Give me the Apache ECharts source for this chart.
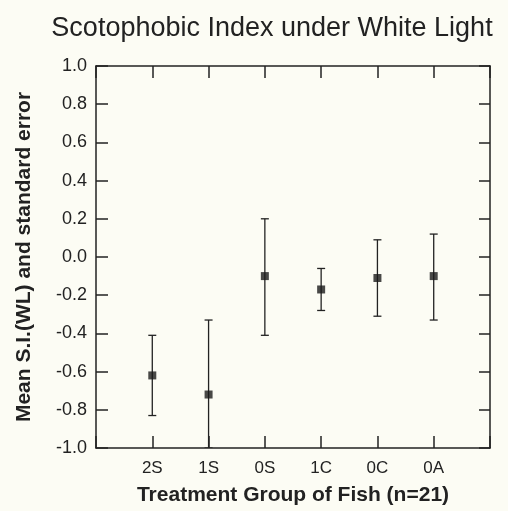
<!DOCTYPE html>
<html>
<head>
<meta charset="utf-8">
<script src="https://cdn.jsdelivr.net/npm/echarts@6/dist/echarts.min.js"></script>
<style>
html,body{margin:0;padding:0;background:#fcfcf4;}
#c{width:508px;height:511px;}
</style>
</head>
<body>
<div id="c"></div>
<script>
const categories = ['2S', '1S', '0S', '1C', '0C', '0A'];
const means = [-0.62, -0.72, -0.10, -0.17, -0.11, -0.10];
const upper = [-0.41, -0.33, 0.20, -0.06, 0.09, 0.12];
const lower = [-0.83, -1.00, -0.41, -0.28, -0.31, -0.33];

const font = 'Liberation Sans, Arial, sans-serif';
const ink = '#222';

const chart = echarts.init(document.getElementById('c'), null, {renderer: 'canvas'});

const meanData = categories.map((c, i) => [i + 1, means[i]]);
const errData = categories.map((c, i) => [i + 1, lower[i], upper[i]]);

const fmtY = v => { const r = Math.round(v * 10) / 10; return r.toFixed(1); };

const lineStyle = {color: ink, width: 1.5};

chart.setOption({
  backgroundColor: '#fcfcf4',
  animation: false,
  title: {
    text: 'Scotophobic Index under White Light',
    left: 267, top: 10, textAlign: 'center',
    textStyle: {fontFamily: font, fontSize: 27, fontWeight: 'normal', color: ink}
  },
  grid: {left: 96, right: 18, top: 66, bottom: 62, show: false},
  xAxis: [{
    type: 'value', min: 0, max: 7, interval: 1, position: 'bottom',
    axisLine: {show: true, onZero: false, lineStyle: lineStyle},
    axisTick: {show: true, inside: true, length: 12, lineStyle: lineStyle},
    splitLine: {show: false},
    axisLabel: {
      fontFamily: font, fontSize: 17, color: ink, margin: 12,
      formatter: v => (v >= 1 && v <= categories.length) ? categories[v - 1] : ''
    },
    name: 'Treatment Group of Fish (n=21)', nameLocation: 'middle', nameGap: 37,
    nameTextStyle: {fontFamily: font, fontSize: 21, fontWeight: 'bold', color: ink}
  }, {
    type: 'value', min: 0, max: 7, interval: 1, position: 'top',
    axisLine: {show: true, onZero: false, lineStyle: lineStyle},
    axisTick: {show: true, inside: true, length: 12, lineStyle: lineStyle},
    splitLine: {show: false}, axisLabel: {show: false}
  }],
  yAxis: [{
    type: 'value', min: -1, max: 1, interval: 0.2, position: 'left',
    axisLine: {show: true, onZero: false, lineStyle: lineStyle},
    axisTick: {show: true, inside: true, length: 12, lineStyle: lineStyle},
    splitLine: {show: false},
    axisLabel: {fontFamily: font, fontSize: 18, color: ink, margin: 9, formatter: fmtY},
    name: 'Mean S.I.(WL) and standard error', nameLocation: 'middle', nameGap: 61,
    nameTextStyle: {fontFamily: font, fontSize: 21, fontWeight: 'bold', color: ink}
  }, {
    type: 'value', min: -1, max: 1, interval: 0.2, position: 'right',
    axisLine: {show: true, onZero: false, lineStyle: lineStyle},
    axisTick: {show: true, inside: true, length: 11, lineStyle: lineStyle},
    splitLine: {show: false}, axisLabel: {show: false}
  }],
  series: [{
    type: 'custom',
    xAxisIndex: 0, yAxisIndex: 0,
    data: errData,
    clip: true,
    renderItem: function (params, api) {
      const x = api.value(0);
      const lo = api.coord([x, api.value(1)]);
      const hi = api.coord([x, api.value(2)]);
      const hw = 4;
      const style = {stroke: ink, lineWidth: 1.3};
      return {
        type: 'group',
        children: [
          {type: 'line', shape: {x1: lo[0], y1: lo[1], x2: hi[0], y2: hi[1]}, style: style},
          {type: 'line', shape: {x1: lo[0] - hw, y1: lo[1], x2: lo[0] + hw, y2: lo[1]}, style: style},
          {type: 'line', shape: {x1: hi[0] - hw, y1: hi[1], x2: hi[0] + hw, y2: hi[1]}, style: style}
        ]
      };
    },
    z: 2
  }, {
    type: 'scatter',
    xAxisIndex: 0, yAxisIndex: 0,
    data: meanData,
    symbol: 'rect', symbolSize: 8,
    itemStyle: {color: '#1a1a1a'},
    z: 3
  }]
});
</script>
</body>
</html>
